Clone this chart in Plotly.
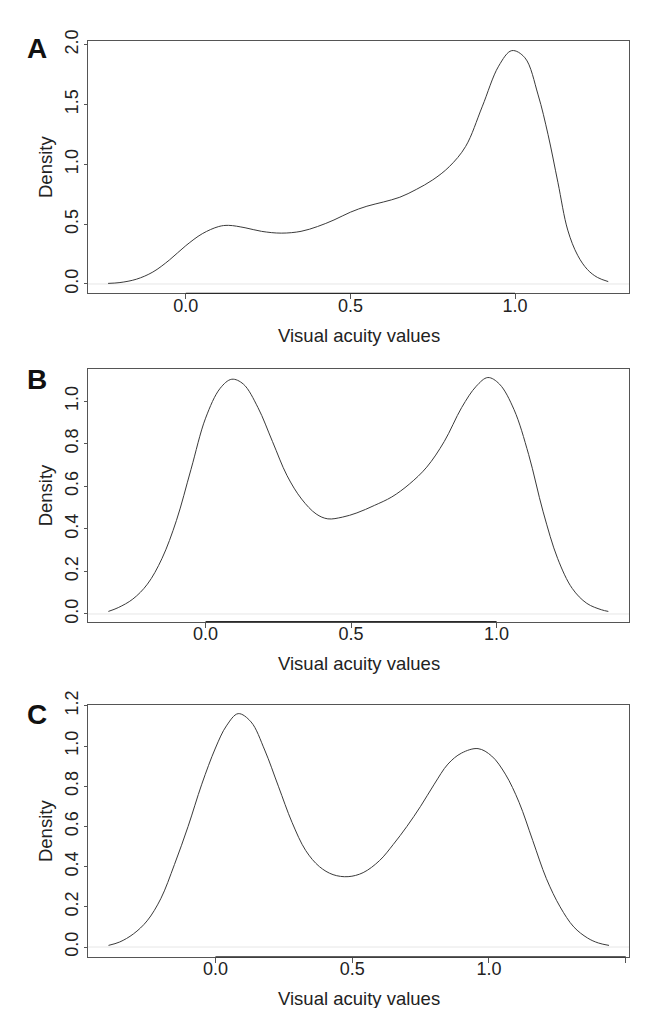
import plotly.graph_objects as go

# ---------------- data ----------------
a_x = [-0.236, -0.20, -0.15, -0.10, -0.05, 0.00, 0.05, 0.10, 0.13, 0.18, 0.23, 0.29, 0.35, 0.40,
       0.45, 0.50, 0.55, 0.60, 0.65, 0.70, 0.75, 0.80, 0.85, 0.90, 0.95, 0.99, 1.03, 1.07, 1.10,
       1.13, 1.16, 1.19, 1.22, 1.25, 1.283]
a_density = [0.005, 0.012, 0.04, 0.10, 0.20, 0.32, 0.42, 0.48, 0.49, 0.47, 0.44, 0.425, 0.44, 0.48,
             0.535, 0.60, 0.65, 0.685, 0.725, 0.79, 0.87, 0.98, 1.15, 1.48, 1.82, 1.95, 1.89, 1.58, 1.25,
             0.85, 0.45, 0.24, 0.12, 0.055, 0.02]

b_x = [-0.334, -0.30, -0.25, -0.20, -0.15, -0.10, -0.05, 0.00, 0.05, 0.09, 0.13, 0.18, 0.23, 0.28,
       0.33, 0.38, 0.42, 0.47, 0.52, 0.58, 0.64, 0.70, 0.76, 0.82, 0.88, 0.93, 0.97, 1.01, 1.06,
       1.11, 1.16, 1.21, 1.26, 1.31, 1.36, 1.384]
b_density = [0.012, 0.03, 0.07, 0.14, 0.26, 0.44, 0.68, 0.92, 1.06, 1.103, 1.08, 0.97, 0.81, 0.65,
             0.54, 0.47, 0.447, 0.455, 0.475, 0.51, 0.55, 0.61, 0.69, 0.81, 0.97, 1.07, 1.111, 1.08, 0.96,
             0.75, 0.48, 0.26, 0.12, 0.05, 0.02, 0.012]

c_x = [-0.391, -0.35, -0.30, -0.25, -0.20, -0.15, -0.10, -0.05, 0.00, 0.04, 0.083, 0.13, 0.18, 0.23,
       0.28, 0.33, 0.38, 0.43, 0.485, 0.54, 0.60, 0.65, 0.70, 0.75, 0.80, 0.85, 0.90, 0.96, 1.01,
       1.06, 1.11, 1.16, 1.21, 1.26, 1.31, 1.36, 1.40, 1.439]
c_density = [0.008, 0.025, 0.065, 0.13, 0.24, 0.41, 0.60, 0.81, 0.99, 1.10, 1.161, 1.12, 0.98, 0.80,
             0.62, 0.48, 0.40, 0.36, 0.35, 0.37, 0.43, 0.51, 0.60, 0.70, 0.81, 0.91, 0.965, 0.987, 0.95,
             0.86, 0.72, 0.53, 0.34, 0.20, 0.10, 0.045, 0.02, 0.008]

panel_letters = ["A", "B", "C"]
x_title = "Visual acuity values"
y_title = "Density"

a_xticks = [0.0, 0.5, 1.0]
a_xticklabels = ["0.0", "0.5", "1.0"]
b_xticks = [0.0, 0.5, 1.0]
b_xticklabels = ["0.0", "0.5", "1.0"]
c_xticks = [0.0, 0.5, 1.0, 1.5]
c_xticklabels = ["0.0", "0.5", "1.0", ""]

a_yticks = [0.0, 0.5, 1.0, 1.5, 2.0]
b_yticks = [0.0, 0.2, 0.4, 0.6, 0.8, 1.0]
c_yticks = [0.0, 0.2, 0.4, 0.6, 0.8, 1.0, 1.2]

# ---------------- layout geometry ----------------
# the page body keeps its default 8px margin, so the figure is drawn 8px smaller / shifted
OFF = 8
W, H = 649 - OFF, 1016 - 2 * OFF


def px_x(v):
    return (v - OFF) / W


def px_y(v):
    return 1 - (v - OFF) / H


x_dom = [px_x(88), px_x(629)]
y_doms = [[px_y(283), px_y(26)], [px_y(617), px_y(360)], [px_y(958), px_y(702)]]
x_ranges = [[-0.297, 1.346], [-0.404, 1.455], [-0.466, 1.512]]
y_ranges = [[-0.078, 2.033], [-0.036, 1.151], [-0.049, 1.203]]
letter_y = [33.5, 370.5, 711.0]
xtitle_y = [325.5, 660.0, 1000.0]

FONT = "Liberation Sans, Arial, Helvetica, sans-serif"
TXT = "#222222"
BOX = "#555555"
AXIS = "#2a2a2a"
CURVE = "#3a3a3a"

xs = [a_x, b_x, c_x]
ys = [a_density, b_density, c_density]
xtv = [a_xticks, b_xticks, c_xticks]
xtt = [a_xticklabels, b_xticklabels, c_xticklabels]
ytv = [a_yticks, b_yticks, c_yticks]

fig = go.Figure()
layout = dict(
    width=W, height=H,
    margin=dict(l=0, r=0, t=0, b=0),
    paper_bgcolor="white", plot_bgcolor="white",
    showlegend=False,
    font=dict(family=FONT, color=TXT, size=18),
)
annotations = []
shapes = []

for i in range(3):
    sfx = "" if i == 0 else str(i + 1)
    fig.add_trace(go.Scatter(
        x=xs[i], y=ys[i], mode="lines",
        line=dict(color=CURVE, width=1, shape="spline", smoothing=1.0),
        xaxis="x" + sfx, yaxis="y" + sfx, hoverinfo="skip",
    ))
    layout["xaxis" + sfx] = dict(
        domain=x_dom, range=x_ranges[i], anchor="y" + sfx,
        showgrid=False, zeroline=False,
        showline=True, linecolor=BOX, linewidth=1, mirror=True,
        ticks="outside", ticklen=5, tickwidth=1, tickcolor=BOX,
        tickvals=xtv[i], ticktext=xtt[i],
        tickfont=dict(family=FONT, size=18, color=TXT),
        ticklabelstandoff=-9,
    )
    layout["yaxis" + sfx] = dict(
        domain=y_doms[i], range=y_ranges[i], anchor="x" + sfx,
        showgrid=False, zeroline=False,
        showline=True, linecolor=BOX, linewidth=1, mirror=True,
        ticks="outside", ticklen=3, tickwidth=1, tickcolor=BOX,
        tickvals=ytv[i], tickformat=".1f", tickangle=-90,
        tickfont=dict(family=FONT, size=18, color=TXT),
        ticklabelstandoff=-1,
    )
    # faint zero line (R density plot)
    shapes.append(dict(type="line", xref="x" + sfx + " domain", x0=0, x1=1,
                       yref="y" + sfx, y0=0, y1=0,
                       line=dict(color="#e6e6e6", width=1), layer="below"))
    # darker R axis segment between first and last tick
    shapes.append(dict(type="line", xref="x" + sfx, x0=xtv[i][0], x1=xtv[i][-1],
                       yref="y" + sfx + " domain", y0=0, y1=0,
                       line=dict(color=AXIS, width=1.3), layer="above"))
    ymid = (y_doms[i][0] + y_doms[i][1]) / 2
    # panel letter
    annotations.append(dict(text="<b>" + panel_letters[i] + "</b>", xref="paper", yref="paper",
                            x=px_x(37), y=px_y(letter_y[i]),
                            xanchor="center", yanchor="middle", showarrow=False,
                            font=dict(family=FONT, size=28, color="#111111")))
    # y title
    annotations.append(dict(text=y_title, xref="paper", yref="paper",
                            x=px_x(45), y=ymid, xanchor="center", yanchor="middle",
                            textangle=-90, showarrow=False,
                            font=dict(family=FONT, size=18.5, color=TXT)))
    # x title
    annotations.append(dict(text=x_title, xref="x" + sfx + " domain", yref="paper",
                            x=0.5, y=px_y(xtitle_y[i]), xanchor="center", yanchor="middle",
                            showarrow=False,
                            font=dict(family=FONT, size=18.5, color=TXT)))

layout["annotations"] = annotations
layout["shapes"] = shapes
fig.update_layout(**layout)
fig.write_html("out.html")
